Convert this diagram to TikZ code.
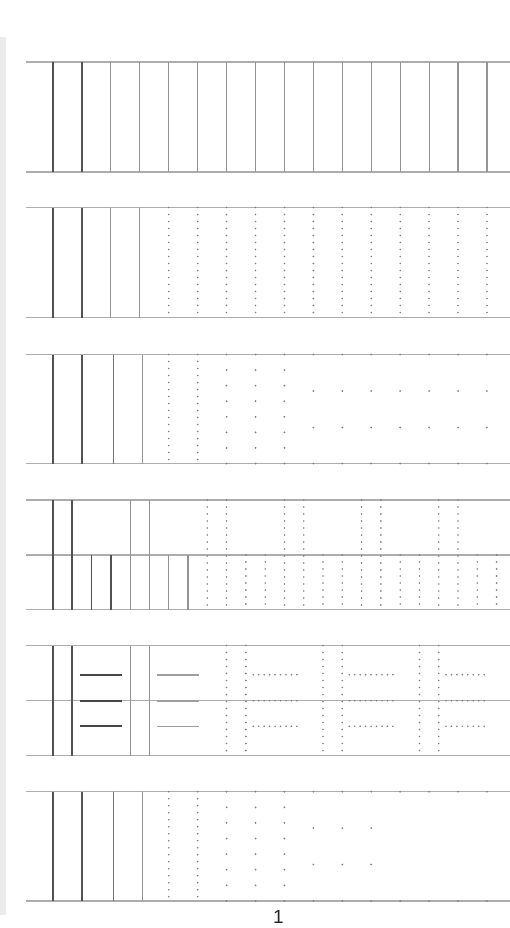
\documentclass[tikz,border=0pt]{standalone}
\usepackage{fontspec}
\setmainfont{Liberation Sans}
\begin{document}
\begin{tikzpicture}[x=1pt,y=-1pt,
  hline/.style={draw=black!32,line width=1.2pt},
  darkv/.style={draw=black!68,line width=1.8pt},
  grayv/.style={draw=black!42,line width=1.1pt},
  darkh/.style={draw=black!72,line width=2.2pt},
  grayh/.style={draw=black!38,line width=1.6pt},
  dotv/.style={draw=black!50,line width=1.8pt,line cap=round,dash pattern=on 0pt off 7pt},
  doth/.style={draw=black!50,line width=1.8pt,line cap=round,dash pattern=on 0pt off 5.45pt},
  pt/.style={fill=black!50}]
\useasboundingbox (0,0) rectangle (510,928);
\fill[white] (0,0) rectangle (510,928);
\fill[black!8] (0,37) rectangle (6,915);
\def\dx{28.93}
\def\sx{19.287}
% ---------- panel 1
\draw[hline] (26,62) -- (510,62);
\draw[hline] (26,172) -- (510,172);
\foreach \k in {0,1} \draw[darkv] ({53+\k*\dx},62) -- ({53+\k*\dx},172);
\foreach \k in {2,...,15} \draw[grayv] ({53+\k*\dx},62) -- ({53+\k*\dx},172);
% ---------- panel 2
\draw[hline] (26,207.5) -- (510,207.5);
\draw[hline] (26,317.5) -- (510,317.5);
\foreach \k in {0,1} \draw[darkv] ({53+\k*\dx},207.5) -- ({53+\k*\dx},317.5);
\foreach \k in {2,3} \draw[grayv] ({53+\k*\dx},207.5) -- ({53+\k*\dx},317.5);
\foreach \k in {4,...,15} \draw[dotv] ({53+\k*\dx},207.5) -- ({53+\k*\dx},317.5);
% ---------- panel 3
\def\ta{354.5}\def\ba{463.5}
\draw[hline] (26,\ta) -- (510,\ta);
\draw[hline] (26,\ba) -- (510,\ba);
\draw[darkv] (53,\ta) -- (53,\ba);
\draw[darkv] (82.3,\ta) -- (82.3,\ba);
\draw[grayv,draw=black!55,line width=1pt] (113.3,\ta) -- (113.3,\ba);
\draw[grayv] (142.3,\ta) -- (142.3,\ba);
\foreach \k in {4,5} \draw[dotv] ({53+\k*\dx},\ta) -- ({53+\k*\dx},\ba);
\foreach \k in {6,...,15} {\fill[pt] ({53+\k*\dx},\ta) circle (1); \fill[pt] ({53+\k*\dx},\ba) circle (1);}
\foreach \k in {6,7,8} \foreach \j in {1,...,6} \fill[pt] ({53+\k*\dx},{\ta+\j*15.57}) circle (1);
\foreach \k in {9,...,15} \foreach \j in {1,2} \fill[pt] ({53+\k*\dx},{\ta+\j*36.5}) circle (1);
% ---------- panel 4
\def\tb{500}\def\mb{555}\def\bb{609.5}
\draw[hline] (26,\tb) -- (510,\tb);
\draw[hline] (26,\mb) -- (510,\mb);
\draw[hline] (26,\bb) -- (510,\bb);
\foreach \k in {0,1} \draw[darkv] ({53+\k*\sx},\tb) -- ({53+\k*\sx},\bb);
\foreach \k in {4,5} \draw[grayv] ({53+\k*\sx},\tb) -- ({53+\k*\sx},\bb);
\foreach \k in {2,3} \draw[darkv] ({53+\k*\sx},\mb) -- ({53+\k*\sx},\bb);
\foreach \k in {6,7} \draw[grayv] ({53+\k*\sx},\mb) -- ({53+\k*\sx},\bb);
\foreach \k in {8,9,12,13,16,17,20,21} \draw[dotv] ({53+\k*\sx},\tb) -- ({53+\k*\sx},\bb);
\foreach \k in {10,11,14,15,18,19,22,23} \draw[dotv] ({53+\k*\sx},\mb) -- ({53+\k*\sx},\bb);
% ---------- panel 5
\def\tc{645.5}\def\mc{700.7}\def\bc{755.7}
\draw[hline] (26,\tc) -- (510,\tc);
\draw[hline] (26,\mc) -- (510,\mc);
\draw[hline] (26,\bc) -- (510,\bc);
\foreach \k in {0,1} \draw[darkv] ({53+\k*\sx},\tc) -- ({53+\k*\sx},\bc);
\foreach \k in {4,5} \draw[grayv] ({53+\k*\sx},\tc) -- ({53+\k*\sx},\bc);
\foreach \k in {9,10,14,15,19,20} \draw[dotv] ({53+\k*\sx},\tc) -- ({53+\k*\sx},\bc);
\foreach \y in {674.7,700.7,726.3} {
  \draw[darkh] (80,\y) -- (122,\y);
  \draw[grayh] (157.3,\y) -- (199.3,\y);
  \draw[doth] (253.3,\y) -- (297.3,\y);
  \draw[doth] (349.3,\y) -- (393,\y);
  \draw[doth] (446,\y) -- (489.5,\y);
}
% ---------- panel 6
\def\td{791.7}\def\bd{901}
\draw[hline] (26,\td) -- (510,\td);
\draw[hline] (26,\bd) -- (510,\bd);
\draw[darkv] (53,\td) -- (53,\bd);
\draw[darkv] (82.3,\td) -- (82.3,\bd);
\draw[grayv,draw=black!55,line width=1pt] (113.3,\td) -- (113.3,\bd);
\draw[grayv] (142.3,\td) -- (142.3,\bd);
\foreach \k in {4,5} \draw[dotv] ({53+\k*\dx},\td) -- ({53+\k*\dx},\bd);
\foreach \k in {6,...,15} {\fill[pt] ({53+\k*\dx},\td) circle (1); \fill[pt] ({53+\k*\dx},\bd) circle (1);}
\foreach \k in {6,7,8} \foreach \j in {1,...,6} \fill[pt] ({53+\k*\dx},{\td+\j*15.6}) circle (1);
\foreach \k in {9,10,11} \foreach \j in {1,2} \fill[pt] ({53+\k*\dx},{\td+\j*36.4}) circle (1);
% ---------- label
\node[font=\fontsize{19}{21}\selectfont,text=black!85,inner sep=0pt] (lbl) at (278.3,916.5) {1};
\end{tikzpicture}
\end{document}
